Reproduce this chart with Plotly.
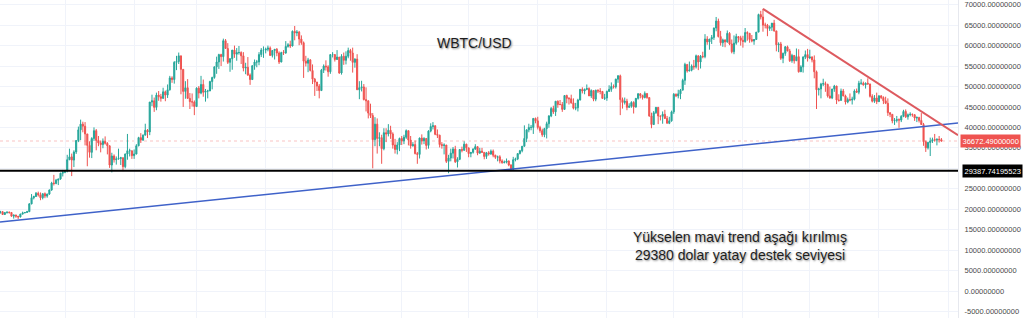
import plotly.graph_objects as go
import pandas as pd

# ---------------- DATA (daily candles, values in thousands USD: close, high, low) -------------
first_open = 19.2
dec20 = [(19.4,19.6,18.9),(18.7,19.5,18.6),(19.2,19.2,18.6),(19.3,19.4,18.9),(19.2,19.4,18.9),(18.3,19.3,18.2),(18.6,18.6,17.7),(18.3,18.6,17.9),(18.1,18.3,17.6),(18.8,18.9,18.0),
         (19.1,19.4,18.7),(19.2,19.3,19.0),(19.4,19.6,19.1),(21.3,21.5,19.3),(22.8,23.7,21.2),(23.1,23.3,22.4),(23.9,24.2,23.0),(23.5,24.3,23.1),(22.8,24.1,22.2),(23.8,23.8,22.4),
         (23.2,24.1,22.7),(23.7,23.8,22.8),(24.7,24.8,23.5),(26.4,26.7,24.5),(26.3,28.4,25.8),(27.1,27.4,26.1),(27.4,27.4,25.9),(28.8,28.9,27.2),(29.0,29.6,28.0)]
jan21 = [(29.4,29.6,28.8),(32.1,33.3,29.0),(32.8,34.8,32.0),(32.0,33.6,28.1),(34.0,34.4,30.3),(36.8,36.9,33.5),(39.4,40.2,36.4),(40.8,41.9,36.9),(40.3,41.4,38.8),(38.4,41.3,35.6),
         (35.6,38.3,30.5),(33.9,36.6,32.6),(37.3,37.6,32.5),(39.2,40.0,36.7),(36.8,39.6,34.4),(36.2,37.9,35.4),(35.8,36.8,33.9),(36.6,37.3,34.9),(36.1,37.8,35.8),(35.5,36.4,33.4),
         (30.8,35.6,30.1),(33.0,33.8,29.0),(32.1,33.4,31.4),(32.3,32.9,30.9),(32.4,34.8,32.1),(32.6,32.8,30.8),(30.4,32.6,29.3),(33.5,33.6,30.0),(34.3,38.4,32.1),(34.3,34.8,32.9),
         (33.1,34.3,32.3)]
feb21 = [(33.5,34.6,32.3),(35.5,35.9,33.4),(37.5,37.7,35.4),(36.9,38.6,36.2),(38.1,38.3,36.7),(39.3,40.9,38.1),(38.9,39.6,37.4),(46.2,46.2,38.1),(46.5,48.0,45.2),(44.9,47.3,43.8),
         (47.9,48.5,44.2),(47.5,48.9,46.5),(47.1,48.2,46.3),(48.7,49.7,47.0),(47.9,49.0,46.4),(49.2,50.5,47.2),(52.1,52.6,49.0),(51.7,52.5,50.9),(55.9,56.2,50.7),(56.1,57.5,54.0),
         (57.5,58.3,55.5),(54.2,57.5,48.1),(48.8,54.2,45.0),(49.7,51.3,47.0),(47.1,51.8,47.0),(46.3,48.4,44.5),(46.2,48.3,45.1),(45.1,46.6,43.0)]
mar21 = [(49.6,49.8,45.0),(48.4,50.1,47.1),(50.5,52.6,48.1),(48.6,51.7,47.5),(48.9,49.4,46.3),(48.9,49.2,47.1),(51.2,51.4,48.9),(52.2,52.4,49.3),(54.8,54.9,51.9),(56.0,57.3,53.1),
         (57.8,58.0,54.3),(57.3,58.0,55.0),(61.2,61.7,56.1),(59.3,61.6,59.3),(55.9,60.6,55.5),(56.8,56.9,53.6),(58.9,58.9,54.1),(57.9,60.0,57.0),(58.3,59.4,56.3),(58.3,59.9,57.8),
         (57.5,58.6,55.5),(54.5,58.4,53.7),(54.7,55.8,53.0),(52.8,57.2,52.6),(51.7,53.2,50.4),(55.1,55.1,51.6),(56.0,56.6,54.1),(56.0,56.5,54.7),(57.8,58.4,55.2),(58.9,59.4,57.2),
         (58.9,59.8,57.0)]
apr21 = [(59.1,59.5,58.1),(59.4,60.0,58.6),(57.6,59.8,57.5),(58.8,58.9,57.1),(59.1,59.1,56.6),(58.2,59.4,57.4),(56.0,58.6,55.5),(58.3,58.5,55.9),(58.2,58.9,57.7),(59.8,61.1,58.0),
         (60.2,60.6,59.5),(59.9,61.2,59.4),(63.5,63.7,59.8),(63.1,64.8,61.3),(63.3,63.8,62.3),(61.6,63.6,60.1),(60.7,62.5,60.2),(56.2,61.0,52.1),(55.7,57.5,54.9),(56.5,57.0,53.5),
         (53.9,56.7,53.7),(51.8,55.4,50.6),(51.1,52.1,47.7),(50.1,51.1,48.9),(49.0,50.6,47.1),(54.0,54.3,48.9),(55.0,55.4,53.3),(54.8,56.4,53.9),(53.6,55.2,52.4),(57.8,57.9,53.1)]
may21 = [(57.8,58.4,57.1),(56.6,57.9,56.1),(57.2,58.9,56.5),(53.3,57.2,53.1),(57.4,57.9,52.9),(56.4,58.3,55.3),(57.4,58.6,55.4),(58.8,59.5,56.9),(58.2,59.2,56.3),(55.9,59.5,53.4),
         (56.7,56.9,54.6),(49.2,57.9,49.2),(49.7,51.3,46.9),(49.9,51.4,48.8),(46.8,50.6,46.6),(46.5,49.8,43.9),(43.5,46.6,42.2),(42.9,45.8,42.3),(37.0,43.5,30.0),(40.8,42.5,35.4),
         (37.3,42.2,33.6),(37.5,38.8,35.4),(34.8,38.2,31.1),(38.7,39.8,34.4),(38.4,39.8,36.4),(39.3,40.8,37.8),(38.4,40.4,37.2),(35.7,38.8,34.8),(34.6,37.2,33.6),(35.7,36.4,33.4),
         (37.3,37.5,34.2)]
jun21 = [(36.7,37.9,35.7),(37.6,38.2,35.9),(39.2,39.5,37.2),(36.9,39.2,35.6),(35.5,37.9,34.8),(35.8,36.4,35.3),(33.6,36.8,33.4),(33.4,34.0,31.1),(37.4,37.5,32.4),(36.7,38.3,35.8),
         (37.3,37.6,35.9),(35.6,37.4,34.6),(39.1,39.3,34.8),(40.2,41.0,38.8),(40.4,41.3,39.5),(38.3,40.5,38.1),(38.1,39.5,37.4),(35.8,38.2,35.1),(35.6,36.4,34.8),(35.7,36.1,33.4),
         (31.7,35.7,31.3),(32.5,33.3,28.8),(33.7,34.8,31.7),(34.7,35.2,32.4),(31.6,35.5,31.3),(32.2,32.7,30.2),(34.6,34.7,32.0),(34.4,35.3,33.9),(35.9,36.6,34.3),(35.0,36.0,34.0)]
jul21 = [(33.6,35.0,32.7),(33.9,33.9,32.7),(34.7,34.9,33.6),(35.3,35.9,34.5),(33.7,35.3,33.2),(34.2,35.0,33.6),(33.9,35.0,33.8),(32.9,33.9,32.2),(33.8,34.0,32.3),(33.5,34.2,33.1),
         (34.2,34.6,33.3),(33.2,34.6,32.7),(32.7,33.3,32.3),(32.8,33.1,31.7),(31.8,33.2,31.2),(31.4,32.2,31.1),(31.5,31.9,31.2),(31.8,32.4,31.2),(30.8,31.9,30.5),(29.8,31.0,29.3),
         (32.1,32.8,29.5),(32.3,32.6,31.7),(33.6,33.6,32.0),(34.3,34.5,33.4),(35.4,35.4,33.9),(37.3,40.5,35.3),(39.4,39.5,36.4),(40.0,40.9,38.8),(40.0,40.6,39.3),(42.2,42.3,38.4),
         (41.6,42.4,41.0)]
aug21 = [(40.0,42.6,39.5),(39.2,40.4,38.7),(38.2,39.7,37.7),(39.7,39.9,37.6),(40.9,41.4,37.3),(42.8,43.0,39.9),(44.6,45.0,42.5),(43.8,45.3,43.3),(46.4,46.4,42.8),(45.6,46.6,44.8),
         (45.6,46.7,45.4),(44.4,46.2,43.8),(47.8,47.9,44.3),(47.1,48.0,45.9),(47.0,47.4,45.6),(46.0,48.0,45.8),(44.7,47.1,44.4),(44.8,46.0,44.2),(46.7,47.0,43.9),(49.3,49.4,46.6),
         (48.9,49.8,48.3),(49.3,49.5,48.1),(49.5,50.5,49.1),(47.7,49.8,47.7),(49.0,49.3,47.2),(46.9,49.0,46.4),(49.1,49.2,46.4),(48.9,49.3,48.4),(48.8,49.6,48.1),(47.1,48.9,47.0),
         (47.2,48.2,46.7)]
sep21 = [(48.8,49.0,46.5),(49.3,50.3,48.7),(50.0,51.0,48.7),(49.9,50.5,49.5),(51.8,51.9,49.5),(52.6,52.8,50.9),(46.8,52.9,43.0),(46.1,47.3,44.6),(46.4,47.3,45.6),(44.9,47.0,44.2),
         (45.2,45.9,44.8),(46.1,46.4,44.8),(45.0,46.4,43.4),(47.1,47.2,44.8),(48.2,48.4,46.8),(47.8,48.4,47.1),(47.3,48.0,46.8),(48.3,48.8,47.1),(47.3,48.3,47.0),(42.8,47.3,42.6),
         (40.7,43.6,39.8),(43.6,44.0,40.6),(44.9,45.0,43.3),(42.8,45.0,40.8),(42.7,42.9,41.7),(43.2,43.9,40.9),(42.2,44.3,42.1),(41.0,42.8,41.0),(41.6,42.6,40.8),(43.8,44.1,41.4)]
oct21 = [(48.1,48.4,43.3),(47.7,48.3,47.4),(48.2,49.2,47.1),(49.1,49.4,46.9),(51.5,51.9,49.1),(55.4,55.8,50.4),(53.8,55.3,53.4),(54.0,56.1,53.7),(55.0,55.4,53.7),(54.8,56.5,54.1),
         (57.5,57.8,54.4),(56.0,57.6,54.0),(57.4,57.7,54.4),(57.3,58.5,56.9),(61.6,62.8,56.9),(60.9,62.3,60.2),(61.6,61.6,59.0),(62.0,62.6,60.4),(64.3,64.4,61.4),(66.0,67.0,63.5),
         (62.2,66.6,62.0),(60.7,63.6,60.0),(61.4,61.7,59.7),(60.9,61.5,59.6),(63.0,63.7,60.7),(60.4,63.3,60.1),(58.5,61.5,58.1),(60.6,62.5,57.9),(62.2,62.9,60.2),(61.9,62.3,60.8),
         (61.3,62.4,60.0)]
nov21 = [(61.0,62.4,59.5),(63.2,64.3,60.7),(63.0,63.5,61.2),(61.5,63.1,60.7),(61.1,62.6,60.8),(61.5,61.6,60.2),(63.3,63.3,61.4),(67.6,67.8,63.3),(67.0,68.5,66.4),(65.0,69.0,63.4),
         (65.0,65.6,64.2),(64.2,65.3,62.3),(64.5,64.9,63.6),(65.5,65.5,63.6),(63.6,66.3,63.4),(60.2,63.6,58.6),(60.4,60.8,58.4),(56.9,60.9,56.5),(58.1,58.3,55.7),(59.7,59.9,57.5),
         (58.7,60.0,58.6),(56.3,59.2,56.0),(57.6,58.0,55.8),(56.3,57.7,55.6),(57.3,59.3,56.3),(53.6,59.1,53.4),(54.8,55.2,53.6),(57.2,57.4,53.4),(57.8,58.8,56.7),(57.0,59.2,56.1)]
dec21 = [(57.2,59.0,56.7),(56.5,57.4,55.9),(53.6,57.6,52.0),(49.2,53.9,44.5),(49.4,49.7,47.8),(50.6,50.9,47.1),(50.7,51.9,50.1),(50.5,51.2,48.7),(47.7,50.7,47.3),(47.2,50.0,47.0),
         (49.4,49.4,46.9),(50.1,50.4,48.7),(46.7,50.2,45.7),(46.6,48.1,46.3),(48.9,49.5,46.6),(47.7,49.4,47.6),(46.2,48.0,45.6),(46.8,47.3,45.9),(46.7,48.3,46.4),(46.9,47.5,45.6),
         (48.9,49.3,46.6),(48.6,49.5,48.5),(50.8,51.4,48.1),(50.8,51.8,50.4),(50.4,51.2,50.2),(50.8,51.0,49.5),(50.6,52.0,50.5),(47.6,50.7,47.3),(46.4,48.1,46.1),(47.2,47.9,46.0),
         (46.3,48.5,45.7)]
jan22 = [(47.7,47.9,46.2),(47.3,47.9,46.9),(46.5,47.6,45.7),(45.9,47.5,45.7),(43.6,47.1,42.8),(43.2,43.7,42.5),(41.6,43.1,41.0),(41.7,42.3,40.6),(41.9,42.8,41.2),(41.8,42.2,39.9),
         (42.7,43.0,41.3),(43.9,44.3,42.5),(42.6,44.4,42.3),(43.1,43.4,41.9),(43.2,43.7,42.7),(43.1,43.4,42.6),(42.3,43.2,41.6),(42.4,42.7,41.3),(41.7,42.6,41.2),(40.7,43.5,40.6),
         (36.5,41.1,35.5),(35.0,36.8,34.0),(36.3,36.5,34.6),(36.7,37.5,33.0),(37.0,37.5,36.2),(36.9,38.4,36.5),(37.1,37.3,35.6),(37.0,37.9,36.3),(36.67249,37.4,36.5)]
first_date = "2020-12-03"

last_price = 36672.49
support_level = 29387.74195523
y_tick_values = [-5000, 0, 5000, 10000, 15000, 20000, 25000, 30000, 35000, 40000, 45000,
                 50000, 55000, 60000, 65000, 70000]
# tick labels hidden by the price tags on the axis
hidden_tick_values = [30000]
# hand-drawn trend lines (date, price)
blue_trend_dates = ["2020-12-02 20:27", "2022-02-05 10:51"]
blue_trend_values = [16900, 41100]
red_trend_dates = ["2021-11-10", "2022-02-05 10:51"]
red_trend_values = [68990, 38100]

title_text = "WBTC/USD"
note_text = "Yükselen mavi trend aşağı kırılmış<br>29380 dolar yatay destek seviyesi"

# ---------------- BUILD ----------------
months = [dec20, jan21, feb21, mar21, apr21, may21, jun21, jul21, aug21, sep21, oct21, nov21, dec21, jan22]
rows = [r for m in months for r in m]
close = [r[0] * 1000 for r in rows]
opens = [first_open * 1000] + close[:-1]
high = [max(r[1] * 1000, o, c) for r, o, c in zip(rows, opens, close)]
low = [min(r[2] * 1000, o, c) for r, o, c in zip(rows, opens, close)]
dates = pd.date_range(first_date, periods=len(rows), freq="D")

UP = "#26a69a"
DOWN = "#ef5350"
GRID = "#f0f3fa"

fig = go.Figure()
fig.add_trace(go.Candlestick(
    x=dates, open=opens, high=high, low=low, close=close,
    increasing=dict(line=dict(color=UP, width=1), fillcolor=UP),
    decreasing=dict(line=dict(color=DOWN, width=1), fillcolor=DOWN),
    whiskerwidth=0, showlegend=False, hoverinfo="skip",
))
fig.add_trace(go.Scatter(x=blue_trend_dates, y=blue_trend_values, mode="lines",
                         line=dict(color="#3f62c9", width=1.5), showlegend=False, hoverinfo="skip"))
fig.add_trace(go.Scatter(x=red_trend_dates, y=red_trend_values, mode="lines",
                         line=dict(color="#dd5a5f", width=2), showlegend=False, hoverinfo="skip"))

# horizontal levels
fig.add_shape(type="line", xref="paper", x0=0, x1=1, yref="y", y0=last_price, y1=last_price,
              line=dict(color="rgba(239,83,80,0.35)", width=1, dash="dot"), layer="below")
fig.add_shape(type="line", xref="paper", x0=0, x1=1, yref="y", y0=support_level, y1=support_level,
              line=dict(color="#000000", width=2))

# price labels on the axis
fig.add_annotation(xref="paper", x=1, xanchor="left", xshift=2, yref="y", y=last_price,
                   yanchor="middle", text=f"{last_price:.8f}", showarrow=False,
                   font=dict(family="Liberation Sans", size=7.5, color="#ffffff"),
                   bgcolor="#ef5350", borderpad=1.5)
fig.add_annotation(xref="paper", x=1, xanchor="left", xshift=4, yref="y", y=support_level,
                   yanchor="middle", text=f"{support_level:.8f}", showarrow=False,
                   font=dict(family="Liberation Sans", size=7.5, color="#ffffff"),
                   bgcolor="#000000", borderpad=1.5)

shadow = "1px 1px 2px rgba(0,0,0,0.45)"
fig.add_annotation(xref="paper", yref="paper", x=0.4958, y=0.865, xanchor="center", yanchor="middle",
                   text=title_text, showarrow=False,
                   font=dict(family="Liberation Sans", size=14, color="#1e1e1e", shadow=shadow))
fig.add_annotation(xref="paper", yref="paper", x=0.7724, y=0.2264, xanchor="center", yanchor="middle",
                   text=note_text, showarrow=False, align="center",
                   font=dict(family="Liberation Sans", size=14, color="#1e1e1e", shadow=shadow))

fig.update_layout(
    width=1024, height=318,
    margin=dict(l=0, r=66, t=0, b=0),
    paper_bgcolor="#ffffff", plot_bgcolor="#ffffff",
    showlegend=False,
    xaxis=dict(type="date", range=["2020-12-02 20:27", "2022-02-05 10:51"],
               showgrid=True, gridcolor=GRID, gridwidth=1, dtick="M1", tick0="2021-01-01",
               showticklabels=False, ticks="", zeroline=False, showline=False,
               rangeslider=dict(visible=False)),
    yaxis=dict(side="right", range=[-6600, 71150], showgrid=True, gridcolor=GRID, gridwidth=1,
               tickvals=y_tick_values,
               ticktext=["" if v in hidden_tick_values else f"{v:.8f}" for v in y_tick_values],
               tickfont=dict(family="Liberation Sans", size=7.5, color="#4a4a4a"),
               ticks="outside", ticklen=4, tickcolor="rgba(0,0,0,0)",
               zeroline=False, showline=True, linecolor="#e6e8ee", linewidth=1),
)

fig.write_html("out.html", config={"displayModeBar": False})
